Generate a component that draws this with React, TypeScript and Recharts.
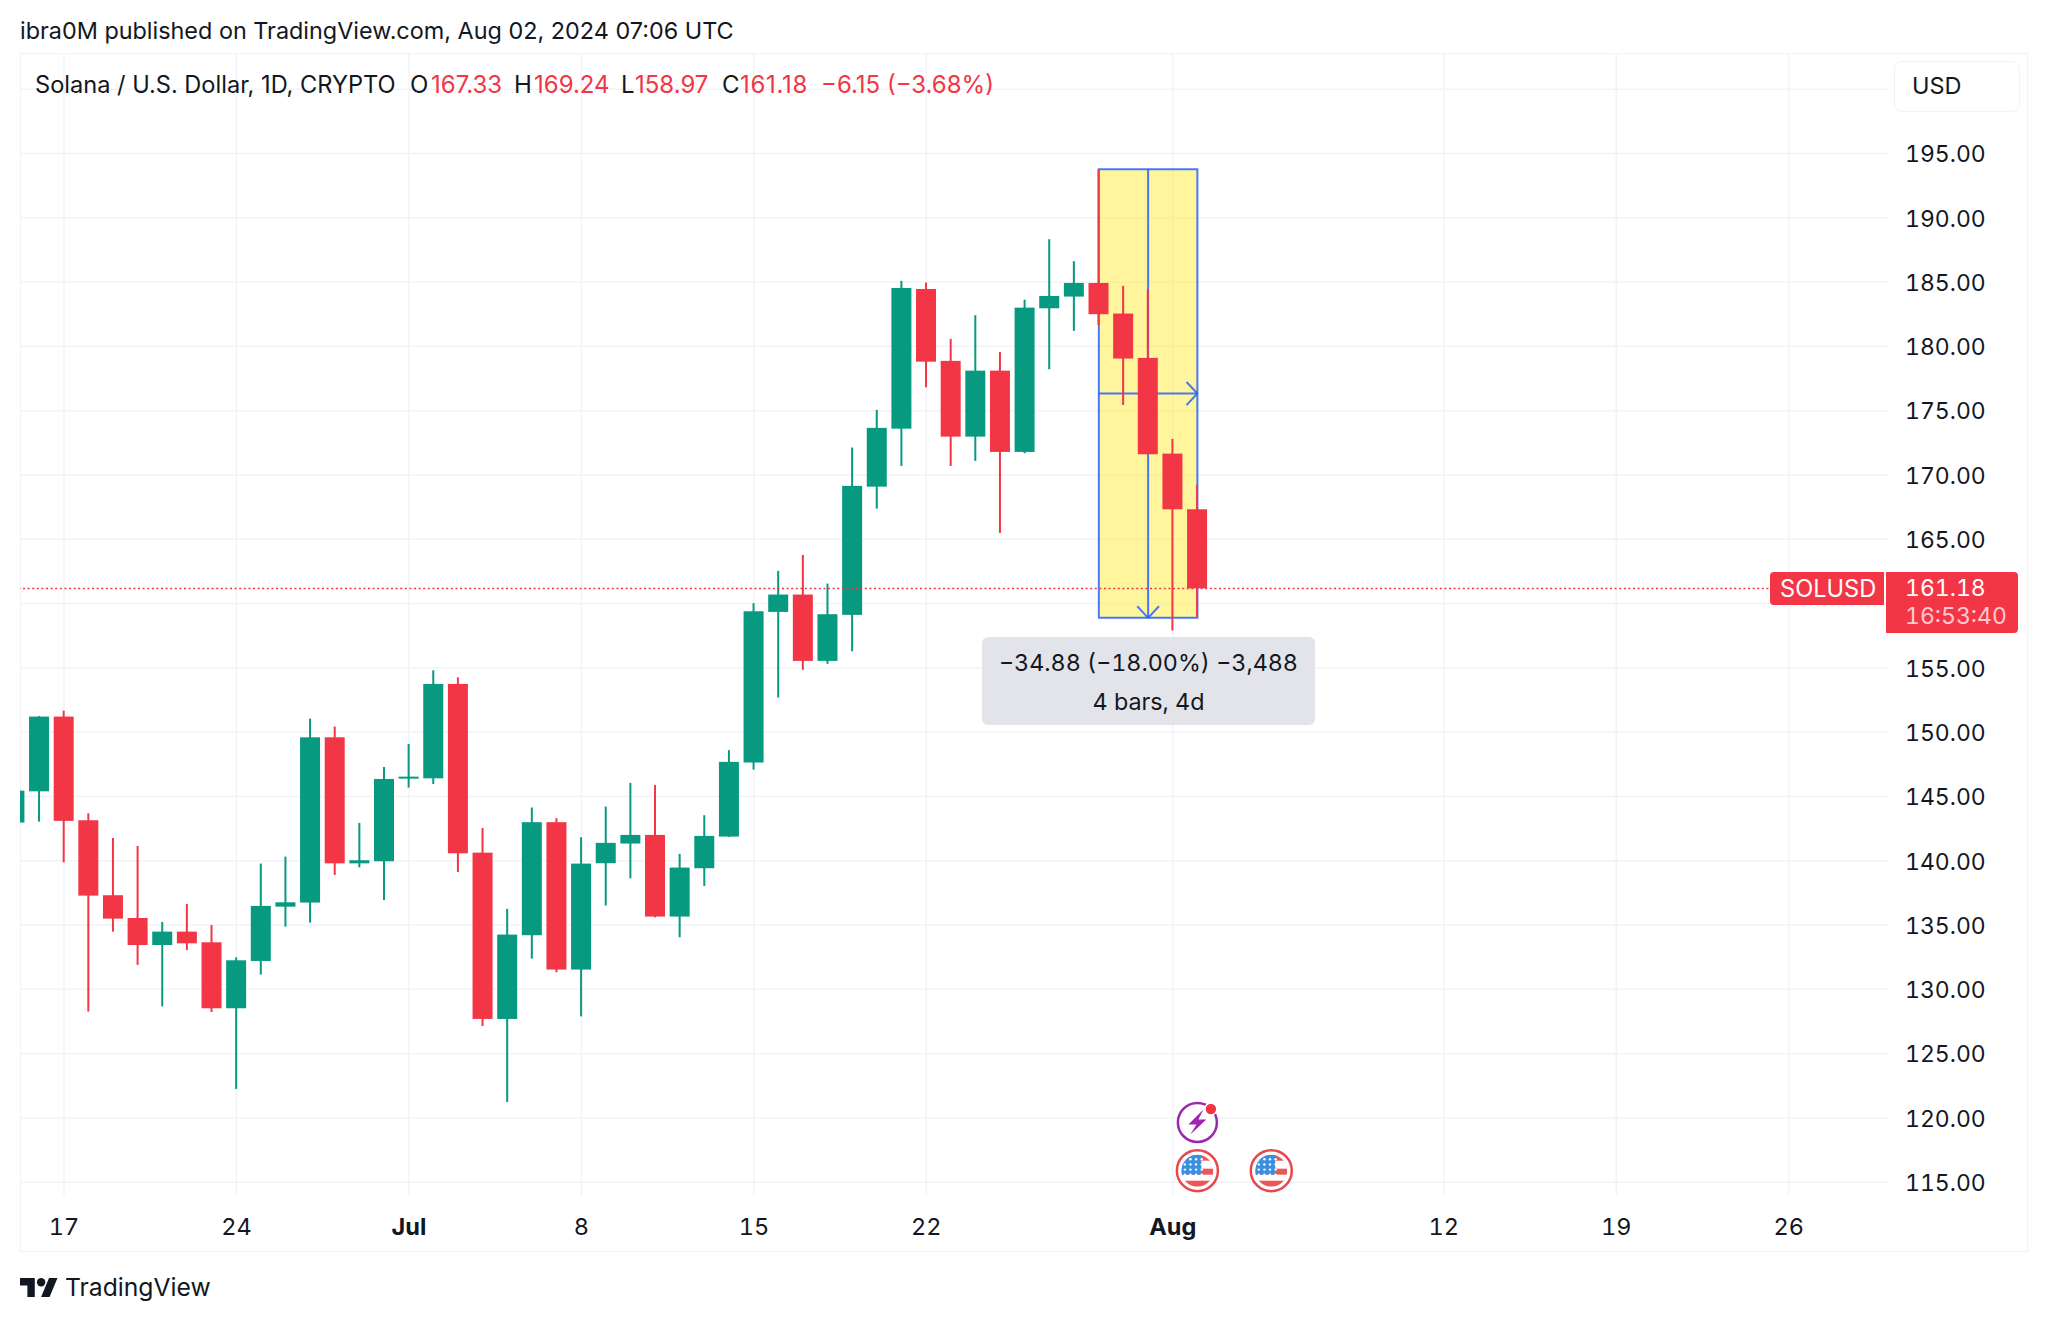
import React from 'react'
import { Bar, CartesianGrid, ComposedChart, ReferenceArea, ReferenceDot, ReferenceLine, XAxis, YAxis } from 'recharts'

// days counted from Jun 17
const DAYS = [-2, -1, 0, 1, 2, 3, 4, 5, 6, 7, 8, 9, 10, 11, 12, 13, 14, 15, 16, 17, 18, 19, 20, 21, 22, 23, 24, 25, 26, 27, 28, 29, 30, 31, 32, 33, 34, 35, 36, 37, 38, 39, 40, 41, 42, 43, 44, 45, 46]
const OPENS = [142.97, 145.4, 151.21, 143.15, 137.32, 135.55, 133.45, 134.49, 133.66, 128.53, 132.21, 136.43, 136.75, 149.6, 139.8, 139.96, 146.41, 146.41, 153.75, 140.63, 127.7, 134.21, 143.0, 131.54, 139.81, 141.34, 142.01, 135.66, 139.42, 141.88, 147.64, 159.35, 160.7, 155.54, 159.12, 169.09, 173.6, 184.46, 178.87, 172.98, 178.11, 171.79, 182.96, 183.87, 184.93, 182.55, 179.1, 171.66, 167.33]
const HIGHS = [145.55, 151.25, 151.67, 143.69, 141.77, 141.15, 135.24, 136.64, 135.0, 132.49, 139.78, 140.32, 151.05, 150.43, 142.94, 147.29, 149.08, 154.81, 154.27, 142.55, 136.26, 144.14, 143.31, 141.83, 144.21, 146.05, 145.9, 140.53, 143.54, 148.6, 160.03, 162.54, 163.78, 161.55, 172.13, 175.06, 185.09, 184.96, 180.58, 182.42, 179.57, 183.63, 188.33, 186.62, 193.77, 184.7, 184.46, 172.8, 169.24]
const LOWS = [142.9, 143.04, 139.88, 128.27, 134.49, 131.9, 128.68, 133.06, 128.24, 122.26, 131.15, 134.88, 135.19, 138.9, 139.49, 136.95, 145.69, 145.97, 139.13, 127.15, 121.24, 132.39, 131.33, 127.9, 136.52, 138.64, 135.6, 134.05, 138.04, 141.85, 147.09, 152.69, 154.84, 155.31, 156.29, 167.38, 170.7, 176.82, 170.7, 171.09, 165.49, 171.69, 178.22, 181.2, 181.66, 175.44, 171.6, 157.9, 158.97]
const CLOSES = [145.45, 151.21, 143.1, 137.29, 135.5, 133.45, 134.49, 133.58, 128.53, 132.26, 136.49, 136.77, 149.6, 139.8, 140.04, 146.36, 146.54, 153.75, 140.58, 127.7, 134.26, 143.0, 131.54, 139.78, 141.39, 142.01, 135.66, 139.47, 141.93, 147.69, 159.4, 160.7, 155.54, 159.17, 169.15, 173.66, 184.54, 178.81, 172.98, 178.11, 171.79, 183.01, 183.92, 184.93, 182.5, 179.05, 171.61, 167.33, 161.18]

const X_TICKS = [0, 7, 14, 21, 28, 35, 45, 56, 63, 70]
const X_LABELS = ['17', '24', 'Jul', '8', '15', '22', 'Aug', '12', '19', '26']
const Y_TICKS = [115, 120, 125, 130, 135, 140, 145, 150, 155, 160, 165, 170, 175, 180, 185, 190, 195, 200]
const Y_HIDDEN = [160, 200]

const LAST_PRICE = 161.18
const RULER = { x1: 42, x2: 46, y1: 193.77, y2: 158.89, xMid: 44, yMid: 176.33 }
const FLAG_EVENTS = [46, 49]
const BOLT_EVENTS = [46]

const GREEN = '#089981'
const RED = '#F23645'
const BLUE = '#2962FF'
const GRID = '#F2F3F7'
const INK = '#131722'
const FONT = 'Inter, sans-serif'
const UNDER_BARS = 150

const data = DAYS.map((day, i) => ({ day, open: OPENS[i], high: HIGHS[i], low: LOWS[i], close: CLOSES[i] }))

function Candle(props: any) {
  const { x, y, width, height, payload } = props
  const { open, high, low, close } = payload
  const perUnit = Math.abs(height) / (high - low)
  const top = y + (high - Math.max(open, close)) * perUnit
  const bodyH = Math.max(Math.abs(open - close) * perUnit, 2)
  const color = close >= open ? GREEN : RED
  return (
    <g>
      <rect x={x + width / 2 - 1} y={y} width={2} height={Math.abs(height)} fill={color} />
      <rect x={x} y={top} width={width} height={bodyH} fill={color} />
    </g>
  )
}

function PriceTick({ x, y, payload }: any) {
  if (Y_HIDDEN.includes(payload.value)) return null
  return (
    <text x={x + 9} y={y + 0.5} dy="0.36em" fontFamily={FONT} fontSize={23} fill={INK} style={{ fontVariantNumeric: 'tabular-nums' }}>
      {payload.value.toFixed(2)}
    </text>
  )
}

function DayTick({ x, y, payload }: any) {
  const label = X_LABELS[X_TICKS.indexOf(payload.value)]
  const bold = label === 'Jul' || label === 'Aug'
  return (
    <text x={x} y={y + 23.5} dy="0.36em" textAnchor="middle" fontFamily={FONT} fontSize={23.5} fontWeight={bold ? 700 : 400} fill={INK} style={{ fontVariantNumeric: 'tabular-nums' }}>
      {label}
    </text>
  )
}

function FlagIcon({ cx, cy }: any) {
  const id = `flag-${Math.round(cx)}`
  const stars = []
  for (let r = 0; r < 4; r++) for (let c = 0; c < 4; c++) stars.push(<circle key={`${r}-${c}`} cx={-12.5 + c * 5.6} cy={-11.5 + r * 5.2} r={1.2} fill="#fff" />)
  return (
    <g transform={`translate(${cx},${cy})`}>
      <circle r={20.5} fill="#fff" stroke="#E8474C" strokeWidth={2.5} />
      <clipPath id={id}><circle r={16} /></clipPath>
      <g clipPath={`url(#${id})`}>
        <rect x={-16} y={-16} width={32} height={32} fill="#fff" />
        <rect x={-16} y={-16} width={32} height={6} fill="#EB5757" />
        <rect x={-16} y={-2} width={32} height={6} fill="#EB5757" />
        <rect x={-16} y={10} width={32} height={6} fill="#EB5757" />
        <rect x={-16} y={-16} width={20} height={20} fill="#3B8FE0" />
        {stars}
      </g>
    </g>
  )
}

function BoltIcon({ cx, cy }: any) {
  return (
    <g transform={`translate(${cx},${cy})`}>
      <circle r={19.5} fill="#fff" stroke="#9C27B0" strokeWidth={2.5} />
      <path d="M6 -13 L-9 2 L-1 2 L-7 12 L9 -3 L1 -3 Z" fill="#9C27B0" />
      <circle cx={13.5} cy={-13.5} r={6} fill={RED} stroke="#fff" strokeWidth={1.5} />
    </g>
  )
}

function Label({ x, y, color = INK, size = 24, tabular = false, spacing = 0, children }: any) {
  return (
    <div style={{ position: 'absolute', left: x, top: y, transform: 'translateY(-50%)', color, fontSize: size, fontFamily: FONT, fontVariantNumeric: tabular ? 'tabular-nums' : 'normal', letterSpacing: spacing, whiteSpace: 'nowrap', lineHeight: 1 }}>
      {children}
    </div>
  )
}

export default function App() {
  const head = { x1: RULER.xMid - 0.44, x2: RULER.xMid + 0.44 }
  const rulerLine = { stroke: BLUE, strokeOpacity: 0.85, strokeWidth: 2, zIndex: UNDER_BARS }
  return (
    <div style={{ position: 'absolute', left: 0, top: 0, width: 2048, height: 1321, background: '#fff', overflow: 'hidden' }}>
      <div style={{ position: 'absolute', left: 20, top: 53, width: 2008, height: 1199, border: `1.5px solid ${GRID}`, boxSizing: 'border-box' }} />
      <div style={{ position: 'absolute', left: 0, top: 0 }}>
        <ComposedChart width={2048} height={1321} data={data} margin={{ top: 53, right: 0, bottom: 86, left: 20 }}>
          <CartesianGrid stroke={GRID} strokeWidth={1.5} syncWithTicks />
          <XAxis dataKey="day" type="number" domain={[-1.786, 74.03]} allowDataOverflow ticks={X_TICKS} interval={0} height={40} axisLine={false} tickLine={false} tick={<DayTick />} />
          <YAxis type="number" orientation="right" domain={[114.01, 202.81]} ticks={Y_TICKS} interval={0} width={160} axisLine={false} tickLine={false} tick={<PriceTick />} />
          <ReferenceArea x1={RULER.x1} x2={RULER.x2} y1={RULER.y1} y2={RULER.y2} fill="#FFEB3B" fillOpacity={0.5} stroke={BLUE} strokeOpacity={0.85} strokeWidth={2} ifOverflow="visible" />
          <ReferenceLine segment={[{ x: RULER.xMid, y: RULER.y1 }, { x: RULER.xMid, y: RULER.y2 }]} {...rulerLine} />
          <ReferenceLine segment={[{ x: RULER.x1, y: RULER.yMid }, { x: RULER.x2, y: RULER.yMid }]} {...rulerLine} />
          <ReferenceLine segment={[{ x: head.x1, y: RULER.y2 + 0.9 }, { x: RULER.xMid, y: RULER.y2 }]} {...rulerLine} />
          <ReferenceLine segment={[{ x: head.x2, y: RULER.y2 + 0.9 }, { x: RULER.xMid, y: RULER.y2 }]} {...rulerLine} />
          <ReferenceLine segment={[{ x: RULER.x2 - 0.44, y: RULER.yMid + 0.9 }, { x: RULER.x2, y: RULER.yMid }]} {...rulerLine} />
          <ReferenceLine segment={[{ x: RULER.x2 - 0.44, y: RULER.yMid - 0.9 }, { x: RULER.x2, y: RULER.yMid }]} {...rulerLine} />
          <Bar dataKey={(d: any) => [d.low, d.high]} barSize={20} isAnimationActive={false} shape={<Candle />} />
          <ReferenceLine y={LAST_PRICE} stroke={RED} strokeWidth={1.5} strokeDasharray="2 2.6" />
          {FLAG_EVENTS.map((d) => (
            <ReferenceDot key={d} x={d} y={115.9} ifOverflow="visible" shape={<FlagIcon />} />
          ))}
          {BOLT_EVENTS.map((d) => (
            <ReferenceDot key={d} x={d} y={119.65} ifOverflow="visible" shape={<BoltIcon />} />
          ))}
        </ComposedChart>
      </div>

      <Label x={20} y={31} size={23.4}>ibra0M published on TradingView.com, Aug 02, 2024 07:06 UTC</Label>
      <Label x={35} y={85} size={23.6}>Solana / U.S. Dollar, 1D, CRYPTO</Label>
      <Label x={410} y={85}>O</Label>
      <Label x={431} y={85} color={RED}>167.33</Label>
      <Label x={514} y={85}>H</Label>
      <Label x={534} y={85} color={RED}>169.24</Label>
      <Label x={621} y={85}>L</Label>
      <Label x={635} y={85} color={RED}>158.97</Label>
      <Label x={722} y={85}>C</Label>
      <Label x={740} y={85} color={RED} spacing={0.7}>161.18</Label>
      <Label x={821} y={85} color={RED}>−6.15 (−3.68%)</Label>

      <div style={{ position: 'absolute', left: 1894, top: 61, width: 126, height: 51, border: `1.5px solid ${GRID}`, borderRadius: 8, background: '#fff', boxSizing: 'border-box' }} />
      <Label x={1912} y={86} size={23.5}>USD</Label>

      <div style={{ position: 'absolute', left: 982, top: 637, width: 333, height: 88, background: 'rgba(224,227,232,0.95)', borderRadius: 6 }} />
      <div style={{ position: 'absolute', left: 982, top: 637, width: 333, height: 88, textAlign: 'center', fontFamily: FONT, fontSize: 23.3, color: INK, fontVariantNumeric: 'tabular-nums', lineHeight: '39px', paddingTop: 6, boxSizing: 'border-box' }}>
        <div>−34.88 (−18.00%) −3,488</div>
        <div>4 bars, 4d</div>
      </div>

      <div style={{ position: 'absolute', left: 1770, top: 572, width: 114, height: 33, background: RED, borderRadius: '4px 0 0 4px' }} />
      <Label x={1780} y={589} color="#fff" size={23.6}>SOLUSD</Label>
      <div style={{ position: 'absolute', left: 1886, top: 572, width: 132, height: 61, background: RED, borderRadius: '0 4px 4px 0' }} />
      <Label x={1905} y={588} color="#fff" size={23} tabular>161.18</Label>
      <Label x={1905} y={616} color="#FFC9CE" size={23} tabular>16:53:40</Label>

      <svg style={{ position: 'absolute', left: 20, top: 1278 }} width={38} height={19} viewBox="0 4 36 18">
        <path d="M14 22H7V11H0V4h14v18zM28 22h-8l7.5-18h8L28 22z" fill={INK} />
        <circle cx={20} cy={8} r={4} fill={INK} />
      </svg>
      <Label x={65} y={1287} size={24.7}>TradingView</Label>
    </div>
  )
}
